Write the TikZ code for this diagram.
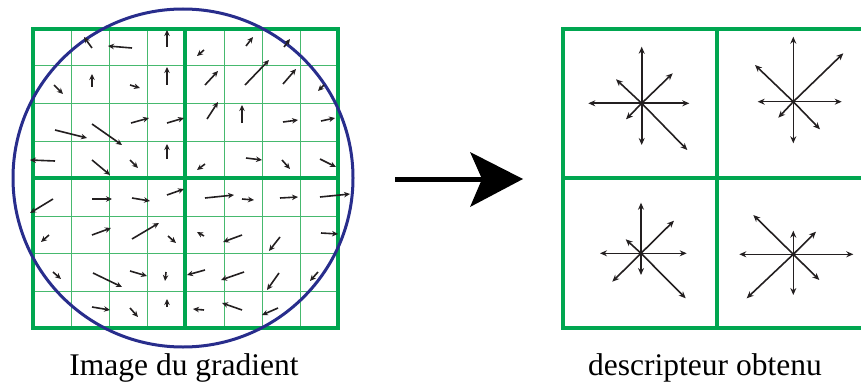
\documentclass[tikz,border=0pt]{standalone}
\usepackage{fontspec}
\setmainfont{Liberation Serif}
\usetikzlibrary{arrows.meta}
\definecolor{gridgreen}{RGB}{0,166,80}
\definecolor{lightgreen}{RGB}{70,185,110}
\definecolor{circblue}{RGB}{40,45,140}
\definecolor{arrowgray}{RGB}{35,31,32}
\tikzset{
  thinline/.style={lightgreen, line width=1pt},
  thickline/.style={gridgreen, line width=3.2pt},
  garrow/.style={arrowgray, line width=1.6pt, -{Stealth[length=6pt,width=5.5pt]}},
  darrow/.style={arrowgray, line width=1.6pt, -{Stealth[length=7pt,width=6pt]}},
  caption/.style={font=\fontsize{31.5}{34}\selectfont, anchor=base, inner sep=0pt}
}
\begin{document}
\begin{tikzpicture}[x=1pt,y=-1pt]
\useasboundingbox (0,0) rectangle (861,385);
\clip (0,0) rectangle (861,385);
% left grid
\foreach \x in {71,109,147,224,262,300} \draw[thinline] (\x,29) -- (\x,328);
\foreach \y in {66,104,141,216,253,291} \draw[thinline] (33,\y) -- (338,\y);
\draw[thickline] (33,29) rectangle (338,328);
\draw[thickline] (185,29) -- (185,328);
\draw[thickline] (33,178) -- (338,178);
% circle
\draw[circblue, line width=3pt] (183,178) ellipse (170 and 169);
% gradient arrows
\foreach \a/\b/\c/\d in {
 92/48/84/37, 132/48/108/46, 167/47/167/30,
 54/85/63/94, 92/87/92/74, 130/85/140/88, 167/85/167/67,
 55/130/87/138, 92/124/122/145, 131/123/149/118, 167/123/184/118,
 55/161/30/160, 92/160/110/175, 130/160/138/168, 167/159/167/144,
 204/50/197/56, 246/46/253/37, 284/47/290/39,
 205/85/218/71, 245/85/269/60, 283/84/296/69, 324/85/318/91,
 207/119/218/102, 242/123/242/105, 283/122/298/120, 321/121/335/118,
 205/164/197/170, 246/158/262/160, 282/160/290/169, 320/159/336/167,
 53/199/30/213, 92/199/112/199, 132/198/150/201, 167/195/184/189,
 49/235/41/242, 92/235/111/228, 132/239/159/223, 168/236/176/243,
 53/272/61/279, 93/273/122/287, 130/271/147/276, 166/272/165/281,
 92/307/110/310, 130/308/138/317, 167/307/167/299,
 205/198/234/195, 242/199/254/200, 280/198/298/197, 320/197/350/194,
 204/236/197/232, 242/235/223/242, 280/237/269/251, 321/233/338/234,
 205/270/187/275, 244/272/221/280, 279/273/267/290, 318/272/310/281,
 204/310/193/309, 242/310/222/303, 278/308/262/315}
 \draw[garrow] (\a,\b) -- (\c,\d);
% big arrow
\coordinate (as) at (395,179);
\coordinate (ae) at (482,179);
\draw[black, line width=5pt] (as) -- (ae);
\fill[black] (470,152) -- (523,179) -- (470,207) -- (482,179) -- cycle;
% descriptor grid
\draw[thickline] (563,29) rectangle (871,328);
\draw[thickline] (717,29) -- (717,328);
\draw[thickline] (563,178) -- (871,178);
% descriptor arrows
\coordinate (c1) at (641.7,103.3);
\foreach \x/\y in {641.7/46.7, 641.7/145, 588.3/103.3, 689.3/103.3, 672.7/73.3, 616/79.3, 626/119.3, 687.3/150}
 \draw[darrow] (c1) -- (\x,\y);
\coordinate (c2) at (793.3,101.7);
\foreach \x/\y in {793.3/36.7, 793.3/143.3, 757.7/101.7, 841.7/101.7, 843.3/53.3, 755/65, 778.3/117.7, 820/129.3}
 \draw[darrow] (c2) -- (\x,\y);
\coordinate (c3) at (641,253.3);
\foreach \x/\y in {641/202.7, 641/275, 600/253.3, 686.7/253.3, 674/220.7, 625.7/239.3, 612.3/281.7, 685.7/298.3}
 \draw[darrow] (c3) -- (\x,\y);
\coordinate (c4) at (793.3,254.3);
\foreach \x/\y in {793.3/230.7, 793.3/295, 739.3/254.3, 853.3/254.3, 816/231.7, 753.3/215, 746.7/298.3, 819.3/280}
 \draw[darrow] (c4) -- (\x,\y);
% captions
\node[caption] (cap1) at (184,375) {Image du gradient};
\node[caption] (cap2) at (705,375) {descripteur obtenu};
\end{tikzpicture}
\end{document}
